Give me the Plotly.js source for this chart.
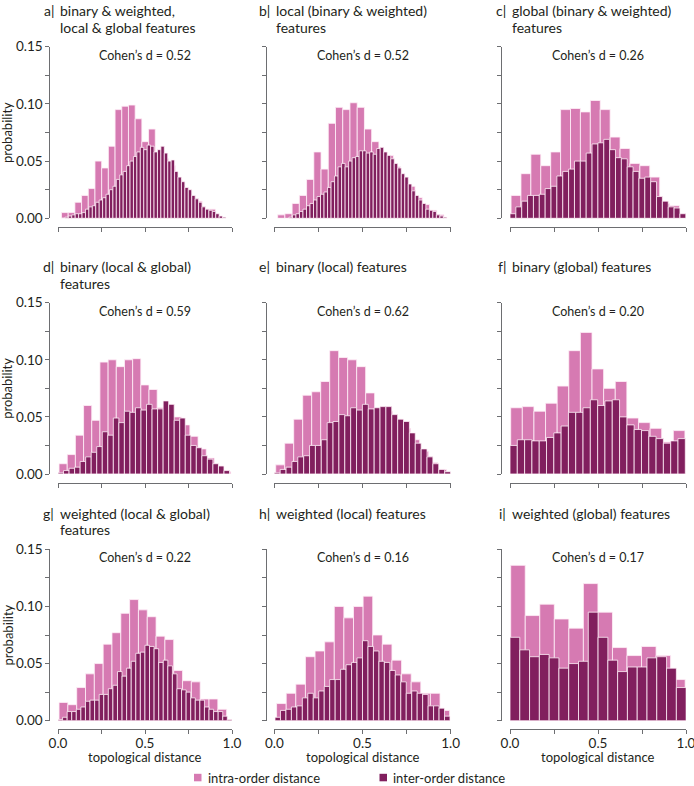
<!DOCTYPE html>
<html>
<head>
<meta charset="utf-8">
<script src="https://cdn.plot.ly/plotly-3.0.1.min.js"></script>
<style>html,body{margin:0;padding:0;background:#fff;}#chart{width:694px;height:786px;}</style>
</head>
<body>
<div id="chart"></div>
<script>
// ---------------- DATA ----------------
const panelLetters = ['a','b','c','d','e','f','g','h','i'];
const panelTitles = [
  ['binary & weighted,', 'local & global features'],
  ['local (binary & weighted)', 'features'],
  ['global (binary & weighted)', 'features'],
  ['binary (local & global)', 'features'],
  ['binary (local) features'],
  ['binary (global) features'],
  ['weighted (local & global)', 'features'],
  ['weighted (local) features'],
  ['weighted (global) features']
];
const cohensD = ['0.52','0.52','0.26','0.59','0.62','0.20','0.22','0.16','0.17'];
const seriesNames = ['intra-order distance', 'inter-order distance'];
const xTickVals = [0, 0.25, 0.5, 0.75, 1.0];
const xTickText = ['0.0', '', '0.5', '', '1.0'];
const yTickVals = [0, 0.025, 0.05, 0.075, 0.10, 0.125, 0.15];
const yTickText = ['0.00', '', '0.05', '', '0.10', '', '0.15'];

// bin edges: [first bin left edge, bin width]
const aIntraBins = [0.020, 0.0385];
const aIntra = [0.005,0.005,0.014,0.020,0.026,0.050,0.044,0.063,0.095,0.098,0.099,0.087,0.067,0.078,0.056,0.052,0.046,0.034,0.026,0.019,0.015,0.008,0.008,0.002];
const aInterBins = [0.020, 0.0197];
const aInter = [0.000,0.001,0.002,0.003,0.004,0.004,0.005,0.008,0.010,0.011,0.014,0.016,0.018,0.021,0.025,0.028,0.034,0.038,0.041,0.046,0.050,0.054,0.058,0.062,0.060,0.064,0.063,0.058,0.060,0.063,0.057,0.050,0.051,0.041,0.036,0.032,0.027,0.025,0.020,0.017,0.014,0.010,0.008,0.007,0.006,0.004,0.002,0.001];

const bIntraBins = [0.019, 0.041];
const bIntra = [0.003,0.004,0.013,0.020,0.034,0.058,0.043,0.083,0.097,0.095,0.101,0.097,0.078,0.067,0.058,0.055,0.045,0.035,0.028,0.018,0.012,0.007,0.003];
const bInterBins = [0.083, 0.0199];
const bInter = [0.001,0.003,0.004,0.006,0.008,0.011,0.013,0.016,0.019,0.021,0.023,0.027,0.032,0.037,0.045,0.048,0.045,0.050,0.053,0.054,0.059,0.059,0.057,0.058,0.056,0.061,0.062,0.058,0.055,0.052,0.048,0.044,0.039,0.036,0.030,0.024,0.020,0.016,0.013,0.008,0.007,0.006,0.003,0.002,0.001];

const cIntraBins = [0.006, 0.0563];
const cIntra = [0.020,0.039,0.056,0.046,0.058,0.095,0.096,0.093,0.103,0.095,0.071,0.061,0.048,0.046,0.036,0.013,0.011];
const cInterBins = [0.000, 0.0333];
const cInter = [0.004,0.010,0.015,0.020,0.020,0.021,0.026,0.028,0.037,0.041,0.043,0.050,0.050,0.057,0.065,0.066,0.069,0.060,0.053,0.052,0.045,0.041,0.035,0.036,0.032,0.019,0.015,0.010,0.009,0.004];

const dIntraBins = [0.006, 0.047];
const dIntra = [0.009,0.017,0.034,0.060,0.047,0.098,0.100,0.094,0.100,0.101,0.078,0.074,0.058,0.055,0.050,0.043,0.033,0.022,0.014,0.007,0.002];
const dInterBins = [0.000, 0.0318];
const dInter = [0.001,0.003,0.005,0.006,0.011,0.015,0.019,0.024,0.037,0.034,0.049,0.045,0.055,0.054,0.058,0.056,0.061,0.057,0.057,0.064,0.061,0.047,0.049,0.034,0.025,0.023,0.016,0.013,0.009,0.007,0.003];

const eIntraBins = [0.008, 0.051];
const eIntra = [0.008,0.027,0.048,0.069,0.072,0.081,0.108,0.102,0.100,0.094,0.071,0.057,0.055,0.048,0.040,0.030,0.020,0.010,0.004];
const eInterBins = [0.000, 0.0333];
const eInter = [0.001,0.004,0.006,0.011,0.015,0.016,0.025,0.025,0.030,0.045,0.046,0.052,0.051,0.058,0.056,0.061,0.057,0.058,0.059,0.059,0.052,0.048,0.046,0.036,0.027,0.022,0.015,0.009,0.004,0.002];

const fIntraBins = [0.004, 0.066];
const fIntra = [0.058,0.059,0.055,0.062,0.077,0.108,0.124,0.092,0.075,0.081,0.049,0.045,0.040,0.028,0.038];
const fInterBins = [0.000, 0.0415];
const fInter = [0.025,0.030,0.030,0.029,0.029,0.032,0.036,0.042,0.054,0.054,0.058,0.065,0.060,0.064,0.065,0.050,0.043,0.039,0.038,0.033,0.031,0.027,0.029,0.031];

const gIntraBins = [0.006, 0.0507];
const gIntra = [0.016,0.014,0.029,0.041,0.050,0.067,0.077,0.094,0.106,0.097,0.091,0.074,0.071,0.044,0.035,0.034,0.019,0.019,0.010];
const gInterBins = [0.000, 0.0263];
const gInter = [0.001,0.003,0.008,0.008,0.010,0.012,0.017,0.018,0.018,0.023,0.023,0.028,0.031,0.043,0.039,0.046,0.052,0.059,0.060,0.066,0.065,0.063,0.051,0.053,0.048,0.041,0.028,0.027,0.025,0.020,0.018,0.018,0.012,0.010,0.008,0.008,0.004,0.001];

const hIntraBins = [0.013, 0.0545];
const hIntra = [0.015,0.024,0.032,0.056,0.061,0.069,0.100,0.090,0.100,0.109,0.075,0.067,0.053,0.041,0.034,0.024,0.024,0.009];
const hInterBins = [0.004, 0.031];
const hInter = [0.003,0.009,0.010,0.012,0.013,0.020,0.024,0.020,0.026,0.030,0.036,0.036,0.045,0.049,0.051,0.055,0.070,0.065,0.061,0.052,0.051,0.044,0.040,0.034,0.024,0.026,0.024,0.023,0.013,0.013,0.011,0.004];

const iIntraBins = [0.004, 0.0826];
const iIntra = [0.136,0.092,0.102,0.089,0.081,0.120,0.095,0.064,0.057,0.065,0.057,0.036];
const iInterBins = [0.000, 0.0556];
const iInter = [0.073,0.062,0.056,0.058,0.055,0.046,0.050,0.052,0.095,0.073,0.053,0.043,0.047,0.047,0.055,0.056,0.046,0.029];

const intraSeries = [[aIntraBins,aIntra],[bIntraBins,bIntra],[cIntraBins,cIntra],[dIntraBins,dIntra],[eIntraBins,eIntra],[fIntraBins,fIntra],[gIntraBins,gIntra],[hIntraBins,hIntra],[iIntraBins,iIntra]];
const interSeries = [[aInterBins,aInter],[bInterBins,bInter],[cInterBins,cInter],[dInterBins,dInter],[eInterBins,eInter],[fInterBins,fInter],[gInterBins,gInter],[hInterBins,hInter],[iInterBins,iInter]];

// ---------------- STYLE / LAYOUT ----------------
const W = 694, H = 786;
const FONT = 'Lato, "Open Sans", sans-serif';
const TXT = '#231f20';
const AXC = '#6d6e71';
const PINK = '#d67ab2';
const PURPLE = '#811f5e';
const EDGE = 'rgba(255,240,248,0.9)';
const X = p => p / W;
const Y = p => 1 - p / H;

const colX0 = [58, 274.3, 510];
const colX1 = [232, 450.7, 686];
const rowTop = [46.7, 302.7, 549.3];
const rowBot = [218.3, 474, 720.7];
const axOff = 8.6;

function centers(bins, vals) {
  return vals.map((_, k) => bins[0] + bins[1] * (k + 0.5));
}

const traces = [];
const layout = {
  width: W, height: H,
  margin: {l: 0, r: 0, t: 0, b: 0},
  paper_bgcolor: '#fff', plot_bgcolor: 'rgba(0,0,0,0)',
  barmode: 'overlay',
  showlegend: false,
  font: {family: FONT, color: TXT, size: 13},
  annotations: [],
  shapes: []
};

for (let p = 0; p < 9; p++) {
  const r = Math.floor(p / 3), c = p % 3;
  const sfx = p === 0 ? '' : String(p + 1);
  const series = [intraSeries[p], interSeries[p]];
  const colors = [PINK, PURPLE];
  series.forEach((s, j) => {
    traces.push({
      type: 'bar',
      x: centers(s[0], s[1]),
      y: s[1],
      width: s[0][1],
      name: seriesNames[j],
      xaxis: 'x' + sfx, yaxis: 'y' + sfx,
      marker: {color: colors[j], line: {color: EDGE, width: 0.9}},
      hoverinfo: 'x+y'
    });
  });
  layout['xaxis' + sfx] = {
    domain: [X(colX0[c]), X(colX1[c])],
    range: [0, 1], anchor: 'free', position: Y(rowBot[r] + axOff),
    showline: true, linecolor: AXC, linewidth: 1,
    ticks: 'outside', ticklen: 4, tickwidth: 1, tickcolor: AXC,
    tickvals: xTickVals, ticktext: xTickText,
    showticklabels: r === 2, tickfont: {family: FONT, size: 13.5, color: TXT},
    ticklabeloverflow: 'allow', ticklabelstandoff: -3,
    showgrid: false, zeroline: false, fixedrange: true
  };
  layout['yaxis' + sfx] = {
    domain: [Y(rowBot[r]), Y(rowTop[r])],
    range: [0, 0.15], anchor: 'free', position: X(colX0[c] - axOff),
    showline: true, linecolor: AXC, linewidth: 1,
    ticks: 'outside', ticklen: 4, tickwidth: 1, tickcolor: AXC,
    tickvals: yTickVals, ticktext: yTickText,
    showticklabels: c === 0, tickfont: {family: FONT, size: 13.5, color: TXT},
    ticklabeloverflow: 'allow',
    showgrid: false, zeroline: false, fixedrange: true
  };
  // panel title
  const lines = panelTitles[p];
  const l1 = rowTop[r] - 36, l2 = rowTop[r] - 19.5;
  layout.annotations.push({
    xref: 'paper', yref: 'paper', x: X(colX0[c] - 2), y: Y(l1),
    xanchor: 'right', yanchor: 'middle', showarrow: false,
    text: panelLetters[p] + '|', font: {family: FONT, size: 14, color: TXT}
  });
  lines.forEach((t, k) => {
    layout.annotations.push({
      xref: 'paper', yref: 'paper', x: X(colX0[c]), y: Y(k === 0 ? l1 : l2),
      xanchor: 'left', yanchor: 'middle', showarrow: false,
      text: t, font: {family: FONT, size: 14, color: TXT}
    });
  });
  // Cohen's d
  layout.annotations.push({
    xref: 'x' + sfx, yref: 'paper', x: 0.5, y: Y(rowTop[r] + 8.5),
    xanchor: 'center', yanchor: 'middle', showarrow: false,
    text: 'Cohen’s d = ' + cohensD[p], font: {family: FONT, size: 12.5, color: TXT}
  });
  if (c === 0) {
    layout.annotations.push({
      xref: 'paper', yref: 'paper', x: X(7.5), y: Y((rowTop[r] + rowBot[r]) / 2),
      xanchor: 'center', yanchor: 'middle', showarrow: false, textangle: -90,
      text: 'probability', font: {family: FONT, size: 13, color: TXT}
    });
  }
  if (r === 2) {
    layout.annotations.push({
      xref: 'paper', yref: 'paper', x: X((colX0[c] + colX1[c]) / 2), y: Y(757),
      xanchor: 'center', yanchor: 'middle', showarrow: false,
      text: 'topological distance', font: {family: FONT, size: 13, color: TXT}
    });
  }
}

// legend
const legX = [194, 379.5];
const legY = 777.5;
[PINK, PURPLE].forEach((col, j) => {
  layout.shapes.push({
    type: 'rect', xref: 'paper', yref: 'paper',
    x0: X(legX[j]), x1: X(legX[j] + 7.5), y0: Y(legY + 3.8), y1: Y(legY - 3.7),
    fillcolor: col, line: {width: 0}
  });
  layout.annotations.push({
    xref: 'paper', yref: 'paper', x: X(legX[j] + 11.5), y: Y(legY),
    xanchor: 'left', yanchor: 'middle', showarrow: false,
    text: seriesNames[j], font: {family: FONT, size: 13, color: TXT}
  });
});

Plotly.newPlot('chart', traces, layout, {displayModeBar: false, staticPlot: true});
</script>
</body>
</html>
